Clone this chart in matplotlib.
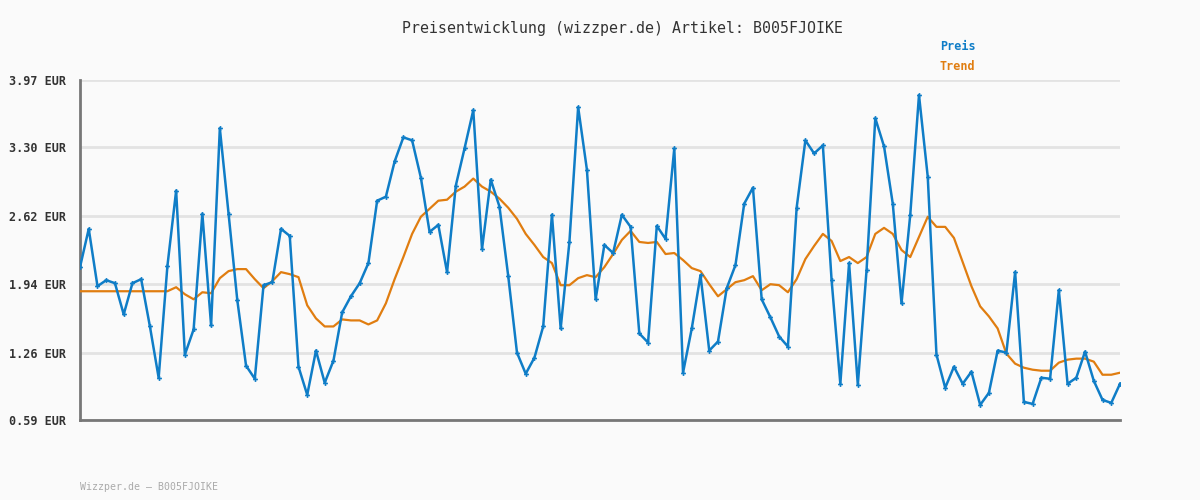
import matplotlib
matplotlib.use("Agg")
import matplotlib.pyplot as plt
import numpy as np

title = "Preisentwicklung (wizzper.de) Artikel: B005FJOIKE"
footer = "Wizzper.de \u2013 B005FJOIKE"
series_names = ["Preis", "Trend"]
y_ticks = [0.59, 1.26, 1.94, 2.62, 3.30, 3.97]
y_tick_labels = ["0.59 EUR", "1.26 EUR", "1.94 EUR", "2.62 EUR", "3.30 EUR", "3.97 EUR"]

preis = [2.11, 2.49, 1.92, 1.98, 1.95, 1.64, 1.95, 1.99, 1.52, 1.01,
         2.12, 2.87, 1.24, 1.49, 2.64, 1.53, 3.49, 2.64, 1.78, 1.13,
         1.00, 1.93, 1.96, 2.49, 2.42, 1.12, 0.84, 1.28, 0.96, 1.18,
         1.66, 1.82, 1.95, 2.15, 2.77, 2.81, 3.16, 3.40, 3.37, 3.00,
         2.46, 2.53, 2.06, 2.92, 3.29, 3.67, 2.29, 2.98, 2.71, 2.02,
         1.26, 1.05, 1.21, 1.52, 2.63, 1.50, 2.36, 3.70, 3.08, 1.79,
         2.33, 2.25, 2.63, 2.51, 1.45, 1.36, 2.52, 2.39, 3.29, 1.06,
         1.50, 2.03, 1.28, 1.37, 1.90, 2.13, 2.74, 2.90, 1.79, 1.61,
         1.42, 1.32, 2.70, 3.37, 3.24, 3.32, 1.98, 0.95, 2.15, 0.94,
         2.08, 3.59, 3.31, 2.74, 1.75, 2.63, 3.82, 3.01, 1.24, 0.91,
         1.12, 0.95, 1.07, 0.74, 0.86, 1.28, 1.26, 2.06, 0.77, 0.75,
         1.01, 1.00, 1.88, 0.95, 1.01, 1.27, 0.98, 0.79, 0.76, 0.95]

trend = [1.87, 1.87, 1.87, 1.87, 1.87, 1.87, 1.87, 1.87, 1.87, 1.87,
         1.87, 1.91, 1.84, 1.79, 1.86, 1.85, 2.00, 2.07, 2.09, 2.09,
         1.99, 1.90, 1.97, 2.06, 2.04, 2.01, 1.73, 1.60, 1.52, 1.52,
         1.59, 1.58, 1.58, 1.54, 1.58, 1.75, 1.99, 2.21, 2.44, 2.61,
         2.69, 2.77, 2.78, 2.86, 2.91, 2.99, 2.91, 2.86, 2.79, 2.70,
         2.59, 2.44, 2.33, 2.21, 2.15, 1.93, 1.93, 2.00, 2.03, 2.01,
         2.11, 2.24, 2.38, 2.47, 2.36, 2.35, 2.36, 2.24, 2.25, 2.18,
         2.10, 2.07, 1.94, 1.82, 1.89, 1.96, 1.98, 2.02, 1.88, 1.94,
         1.93, 1.86, 1.99, 2.19, 2.32, 2.44, 2.37, 2.17, 2.21, 2.15,
         2.21, 2.44, 2.50, 2.44, 2.28, 2.21, 2.41, 2.61, 2.51, 2.51,
         2.40, 2.16, 1.92, 1.72, 1.62, 1.50, 1.25, 1.15, 1.11, 1.09,
         1.08, 1.08, 1.16, 1.19, 1.20, 1.20, 1.17, 1.04, 1.04, 1.06]

blue = "#0f7dc7"
orange = "#e07d10"
bg = "#fafafa"
mono = "DejaVu Sans Mono"

fig = plt.figure(figsize=(12, 5), dpi=100, facecolor=bg)
ax = fig.add_axes([80 / 1200, 80 / 500, 1040 / 1200, 340 / 500], facecolor=bg)

x = np.arange(len(preis))
ax.plot(x, trend, color=orange, lw=1.6, zorder=3, solid_joinstyle="round")
ax.plot(x, preis, color=blue, lw=1.8, marker="P", ms=3.5, mew=0,
        zorder=4, solid_joinstyle="round")

ax.set_xlim(0, len(preis) - 1)
ax.set_ylim(y_ticks[0], y_ticks[-1])
ax.set_yticks(y_ticks)
ax.set_yticklabels(y_tick_labels, fontfamily=mono, fontsize=8.5,
                   fontweight="bold", color="#333333")
ax.set_xticks([])
ax.tick_params(axis="y", length=0, pad=10)
ax.grid(axis="y", color="#e3e3e3", lw=2, zorder=0)
ax.set_axisbelow(True)
for s in ["top", "right"]:
    ax.spines[s].set_visible(False)
for s in ["left", "bottom"]:
    ax.spines[s].set_color("#777777")
    ax.spines[s].set_linewidth(2)

fig.text(623 / 1200, 1 - 28 / 500, title, ha="center", va="center",
         fontfamily=mono, fontsize=10.7, color="#333333")
fig.text(940 / 1200, 1 - 47 / 500, series_names[0], ha="left", va="center",
         fontfamily=mono, fontsize=8.5, fontweight="bold", color=blue)
fig.text(940 / 1200, 1 - 67 / 500, series_names[1], ha="left", va="center",
         fontfamily=mono, fontsize=8.5, fontweight="bold", color=orange)
fig.text(80 / 1200, 1 - 487 / 500, footer, ha="left", va="center",
         fontfamily=mono, fontsize=7.1, color="#aaaaaa")

fig.savefig("out.png", dpi=100, facecolor=bg)
